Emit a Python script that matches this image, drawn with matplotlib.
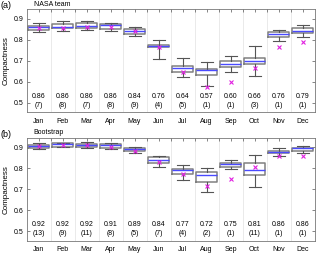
import matplotlib
matplotlib.use("Agg")
import matplotlib.pyplot as plt
import numpy as np

plt.rcParams['font.family'] = ['Liberation Sans', 'DejaVu Sans']

months = ["Jan", "Feb", "Mar", "Apr", "May", "Jun", "Jul", "Aug", "Sep", "Oct", "Nov", "Dec"]

# Panel (a) NASA team
a_wlo = [0.837, 0.843, 0.846, 0.842, 0.819, 0.709, 0.622, 0.581, 0.647, 0.627, 0.794, 0.813]
a_q1  = [0.846, 0.854, 0.854, 0.851, 0.827, 0.764, 0.646, 0.631, 0.669, 0.685, 0.815, 0.830]
a_med = [0.861, 0.862, 0.867, 0.868, 0.840, 0.769, 0.666, 0.654, 0.685, 0.701, 0.826, 0.843]
a_q3  = [0.865, 0.876, 0.878, 0.873, 0.853, 0.773, 0.673, 0.660, 0.701, 0.712, 0.835, 0.856]
a_whi = [0.880, 0.889, 0.887, 0.880, 0.859, 0.800, 0.714, 0.693, 0.723, 0.769, 0.848, 0.868]
a_obs = [0.854, 0.857, 0.859, 0.859, 0.842, 0.764, 0.649, 0.576, 0.600, 0.666, 0.764, 0.790]
a_lab = ["0.86", "0.86", "0.86", "0.86", "0.84", "0.76", "0.64", "0.57", "0.60", "0.66", "0.76", "0.79"]
a_n   = ["(7)", "(8)", "(7)", "(8)", "(9)", "(4)", "(5)", "(1)", "(1)", "(3)", "(1)", "(1)"]

# Panel (b) Bootstrap
b_wlo = [0.891, 0.899, 0.895, 0.892, 0.873, 0.807, 0.745, 0.688, 0.794, 0.712, 0.859, 0.872]
b_q1  = [0.897, 0.901, 0.901, 0.895, 0.882, 0.827, 0.773, 0.734, 0.804, 0.769, 0.870, 0.882]
b_med = [0.905, 0.914, 0.911, 0.911, 0.891, 0.840, 0.790, 0.766, 0.818, 0.790, 0.878, 0.894]
b_q3  = [0.911, 0.920, 0.917, 0.916, 0.895, 0.851, 0.796, 0.780, 0.827, 0.826, 0.882, 0.897]
b_whi = [0.919, 0.922, 0.927, 0.919, 0.903, 0.859, 0.815, 0.802, 0.837, 0.864, 0.895, 0.906]
b_obs = [0.906, 0.911, 0.908, 0.901, 0.880, 0.830, 0.771, 0.714, 0.750, 0.805, 0.856, 0.856]
b_lab = ["0.92", "0.92", "0.92", "0.91", "0.89", "0.84", "0.77", "0.72", "0.75", "0.81", "0.86", "0.86"]
b_n   = ["(13)", "(9)", "(11)", "(8)", "(5)", "(7)", "(4)", "(2)", "(1)", "(11)", "(1)", "(1)"]

fig = plt.figure(figsize=(3.2, 2.56), dpi=100)
ax_a = fig.add_axes([0.083, 0.561, 0.900, 0.403])
ax_b = fig.add_axes([0.083, 0.060, 0.900, 0.402])

def draw(ax, wlo, q1, med, q3, whi, obs, lab, nn, letter, title, ly):
    pos = np.arange(1, len(months) + 1)
    stats = []
    for i in range(len(months)):
        stats.append(dict(whislo=wlo[i], q1=q1[i], med=med[i], q3=q3[i], whishi=whi[i], fliers=[]))
    ax.bxp(stats, positions=pos, widths=0.9, showfliers=False, capwidths=0.5,
           boxprops=dict(color='#808080', lw=1.1),
           medianprops=dict(color='#4a4aff', lw=1.0),
           whiskerprops=dict(color='#555555', lw=0.8),
           capprops=dict(color='#555555', lw=0.8))
    ax.plot(pos, obs, linestyle='none', marker='x', color='#e020e0', ms=2.5, mew=0.8, zorder=5)
    for i in range(len(months)):
        ax.text(pos[i], 0.530, lab[i], ha='center', va='center', fontsize=5)
        ax.text(pos[i], 0.488, nn[i], ha='center', va='center', fontsize=5)
    ax.set_xlim(0.5, 12.5)
    ax.set_ylim(0.455, 0.945)
    ax.set_xticks(pos)
    ax.set_xticklabels(months)
    ax.set_xticks(np.arange(1.5, 12.5, 1), minor=True)
    ax.set_yticks([0.5, 0.6, 0.7, 0.8, 0.9])
    ax.set_yticklabels(["0.5", "0.6", "0.7", "0.8", "0.9"])
    ax.grid(True, which='minor', axis='x', color='#e6e6e6', lw=0.6)
    ax.tick_params(which='both', direction='in', top=True, right=True, length=2,
                   width=0.5, labelsize=5, pad=2, colors='#555555', labelcolor='black')
    ax.tick_params(axis='x', which='both', bottom=False, pad=4)
    for s in ax.spines.values():
        s.set_color('#777777')
        s.set_linewidth(0.6)
    ax.set_ylabel("Compactness", fontsize=5.8, labelpad=3)
    fig.text(0.003, ly, letter, fontsize=6.5, ha='left', va='top')
    ax.text(0.025, 1.012, title, transform=ax.transAxes, fontsize=5, ha='left', va='bottom')

draw(ax_a, a_wlo, a_q1, a_med, a_q3, a_whi, a_obs, a_lab, a_n, "(a)", "NASA team", 0.995)
draw(ax_b, b_wlo, b_q1, b_med, b_q3, b_whi, b_obs, b_lab, b_n, "(b)", "Bootstrap", 0.492)

fig.savefig("out.png", dpi=100)
